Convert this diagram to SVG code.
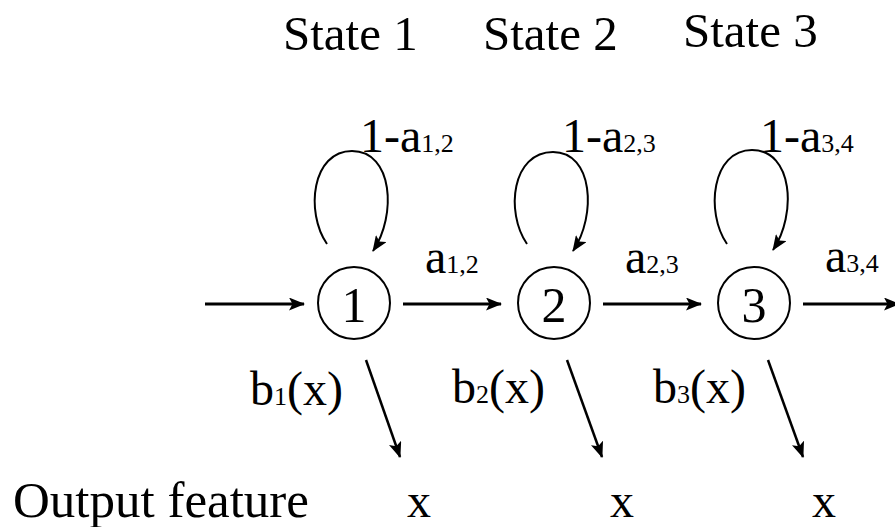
<svg xmlns="http://www.w3.org/2000/svg" width="895" height="527" viewBox="0 0 895 527">
<defs>
<marker id="ah" viewBox="0 0 16 13" refX="15" refY="6.5" markerWidth="16" markerHeight="13" markerUnits="userSpaceOnUse" orient="auto">
<path d="M0,0 L16,6.5 L0,13 L3.5,6.5 z" fill="#000"/>
</marker>
<style>
.t{font-size:49px}
.l{font-size:48px}
.s{font-size:26px}
.n{font-size:50px;text-anchor:middle}
.c{fill:#fff;stroke:#000;stroke-width:2}
.e{fill:none;stroke:#000;stroke-width:3;marker-end:url(#ah)}
.lp{fill:none;stroke:#000;stroke-width:2;marker-end:url(#ah)}
.d{fill:none;stroke:#000;stroke-width:2.5;marker-end:url(#ah)}
</style>
</defs>
<rect width="895" height="527" fill="#fff"/>
<g id="titles" font-family="'Liberation Serif', 'Times New Roman', 'DejaVu Serif', serif" fill="#000">
<text class="t" x="283" y="50">State 1</text>
<text class="t" x="483" y="50">State 2</text>
<text class="t" x="683" y="47">State 3</text>
</g>
<g id="connectors">
<line class="e" x1="205" y1="304" x2="304" y2="304"/>
<line class="e" x1="403" y1="304" x2="501" y2="304"/>
<line class="e" x1="603" y1="304" x2="701" y2="304"/>
<line class="e" x1="803" y1="304" x2="899" y2="304"/>
<path class="lp" d="M327,244 C305,212 312,151 352,151 C393,151 397,215 373,251"/>
<path class="lp" d="M527,244 C505,212 512,152 553,152 C593,152 597,215 573,251"/>
<path class="lp" d="M727,244 C705,212 712,150 752,150 C793,150 797,214 773,250"/>
<line class="d" x1="366" y1="360" x2="400" y2="457"/>
<line class="d" x1="567" y1="360" x2="602" y2="457"/>
<line class="d" x1="768" y1="360" x2="803" y2="457"/>
</g>
<g font-family="'Liberation Serif', 'Times New Roman', 'DejaVu Serif', serif" fill="#000">
<g id="node1">
<circle class="c" cx="354" cy="303" r="36"/>
<text class="n" x="354" y="322">1</text>
</g>
<g id="node2">
<circle class="c" cx="554" cy="303" r="36"/>
<text class="n" x="554" y="322">2</text>
</g>
<g id="node3">
<circle class="c" cx="754" cy="303" r="36"/>
<text class="n" x="754" y="322">3</text>
</g>
<g id="labels">
<text class="l" x="360" y="152">1-a<tspan class="s">1,2</tspan></text>
<text class="l" x="562" y="152">1-a<tspan class="s">2,3</tspan></text>
<text class="l" x="760" y="152">1-a<tspan class="s">3,4</tspan></text>
<text class="l" x="425" y="273">a<tspan class="s">1,2</tspan></text>
<text class="l" x="625" y="273">a<tspan class="s">2,3</tspan></text>
<text class="l" x="825" y="272">a<tspan class="s">3,4</tspan></text>
<text class="l" x="250" y="405">b<tspan class="s">1</tspan>(x)</text>
<text class="l" x="452" y="403">b<tspan class="s">2</tspan>(x)</text>
<text class="l" x="653" y="403">b<tspan class="s">3</tspan>(x)</text>
<text class="l" x="13" y="517" style="font-size:51px">Output feature</text>
<text class="l" x="407" y="517">x</text>
<text class="l" x="610" y="517">x</text>
<text class="l" x="812" y="517">x</text>
</g>
</g>
</svg>
